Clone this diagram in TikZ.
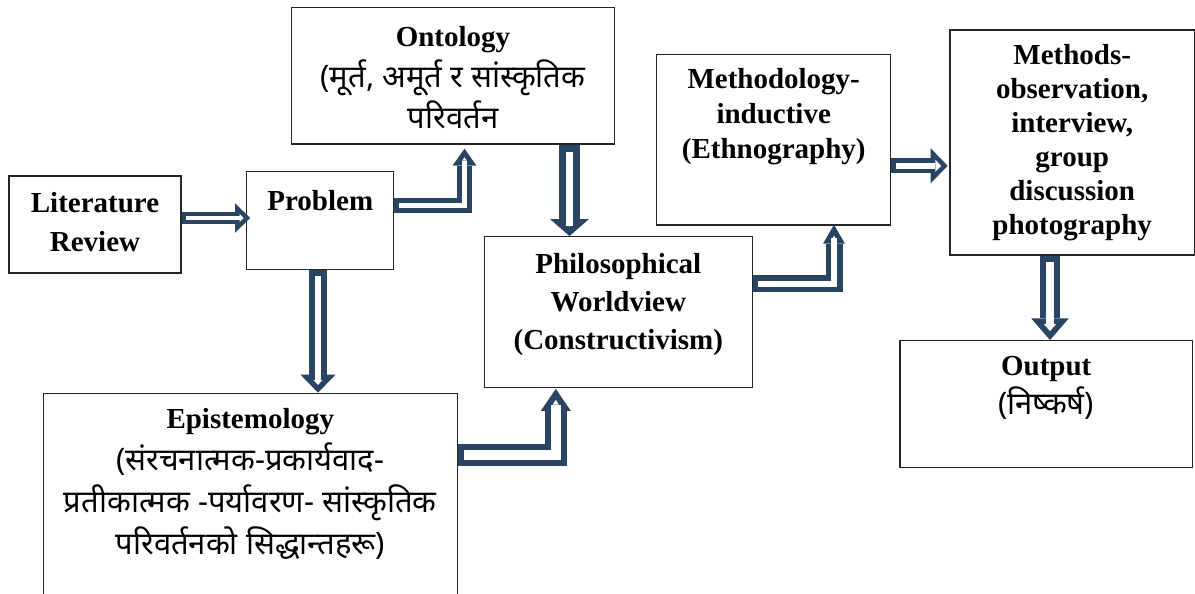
\documentclass[tikz,border=0pt]{standalone}
\usepackage{fontspec}
\setmainfont{Liberation Serif}
\newfontfamily\devfont[Script=Devanagari]{Noto Sans}
\usetikzlibrary{calc,arrows.meta}
\definecolor{arrowblue}{HTML}{294563}

\newcommand{\nepali}[1]{{\devfont\mdseries\fontsize{31}{41}\selectfont #1}}

% hollow block arrow: shaft, gap, head width, head length, path
\newcommand{\blockarrow}[5]{%
  \pgfmathsetmacro{\bd}{(#1-#2)/2}%
  \pgfmathsetmacro{\ba}{atan((#3/2)/#4)}%
  \pgfmathsetmacro{\bs}{\bd/sin(\ba)}%
  \pgfmathsetmacro{\bl}{#4-\bs-\bd}%
  \pgfmathsetmacro{\bw}{2*((#3/2)*(#4-\bd)/#4-\bd/cos(\ba))}%
  \draw[line width=#1pt, arrowblue, line join=miter,
    -{Triangle[length=#4pt,width=#3pt,line width=0pt]}] #5;
  \draw[line width=#2pt, white, line join=miter, shorten <=\bd pt, shorten >=\bs pt,
    -{Triangle[length=\bl pt,width=\bw pt,line width=0pt]}] #5;
}

\begin{document}
\begin{tikzpicture}[x=1pt,y=-1pt,
    box/.style={draw=black!85, line width=1.3pt, inner sep=0pt},
    lbl/.style={align=center, inner sep=0pt, font=\bfseries\fontsize{29}{35}\selectfont},
    nplbl/.style={lbl, font=\bfseries\fontsize{29}{41}\selectfont}]
    \useasboundingbox (0,0) rectangle (1195,594);

    % Boxes
    \node[box, minimum width=172pt, minimum height=97pt] (lit) at (95,224.5) {};
    \node[box, minimum width=147pt, minimum height=98pt] (prob) at (320.3,220.5) {};
    \node[box, minimum width=322.6pt, minimum height=136.7pt] (onto) at (453,75.7) {};
    \node[box, minimum width=414pt, minimum height=216.7pt] (epi) at (250.3,501.7) {};
    \node[box, minimum width=268pt, minimum height=151pt] (phil) at (618.3,312.2) {};
    \node[box, minimum width=234pt, minimum height=170.7pt] (meth) at (773.7,139.7) {};
    \node[box, minimum width=244.3pt, minimum height=225pt] (methods) at (1072.2,142.5) {};
    \node[box, minimum width=292.3pt, minimum height=127pt] (out) at (1046.2,404.2) {};

    % Arrows
    \blockarrow{12.6}{3.6}{29.4}{15}{($(lit.east)+(0,-6.5)$) -- ($(prob.west)+(4,-2.5)$)}
    \blockarrow{15}{5}{24}{17}{($(prob.east)+(0,-15.5)$) -| ($(onto.south)+(11.5,4)$)}
    \blockarrow{21}{6.7}{39}{17}{($(onto.south)+(116.5,0)$) -- ($(phil.north)+(-48.8,0)$)}
    \blockarrow{17.7}{6.7}{35}{18}{($(prob.south)+(-2.3,0)$) -- ($(epi.north)+(67.7,0)$)}
    \blockarrow{22}{9.5}{30}{22}{($(epi.north east)+(0,62.5)$) -| ($(phil.south)+(-62.5,0.5)$)}
    \blockarrow{17}{6}{22}{19}{($(phil.east)+(0,-28.4)$) -| ($(meth.south)+(60.3,-1)$)}
    \blockarrow{15}{5.7}{35}{17}{($(meth.east)+(0,26.1)$) -- ($(methods.west)+(-1.7,23.3)$)}
    \blockarrow{20}{8.3}{37.6}{21.7}{($(methods.south)+(-22.2,0)$) -- ($(out.north)+(3.8,0)$)}

    % Labels
    \node[lbl, font=\bfseries\fontsize{29}{39}\selectfont] at ($(lit)+(0,-2.5)$) {Literature\\Review};
    \node[lbl] at ($(prob.north)+(0,29.5)$) {Problem};
    \node[nplbl] at ($(onto)+(0,2.3)$) {Ontology\\\nepali{(मूर्त, अमूर्त र सांस्कृतिक}\\\nepali{परिवर्तन}};
    \node[nplbl, font=\bfseries\fontsize{29}{42}\selectfont] at ($(epi.north)+(0,91.7)$)
        {Epistemology\\\nepali{(संरचनात्मक-प्रकार्यवाद-}\\\nepali{प्रतीकात्मक -पर्यावरण- सांस्कृतिक}\\\nepali{परिवर्तनको सिद्धान्तहरू)}};
    \node[lbl, font=\bfseries\fontsize{29}{38}\selectfont] at ($(phil)+(0,-8)$) {Philosophical\\Worldview\\(Constructivism)};
    \node[lbl] at ($(meth.north)+(0,62.7)$) {Methodology-\\inductive\\(Ethnography)};
    \node[lbl, font=\bfseries\fontsize{29}{34}\selectfont] at (methods) {Methods-\\observation,\\interview,\\group\\discussion\\photography};
    \node[nplbl, font=\bfseries\fontsize{29}{39}\selectfont] at ($(out.north)+(0,47.8)$) {Output\\\nepali{(निष्कर्ष)}};
\end{tikzpicture}
\end{document}
